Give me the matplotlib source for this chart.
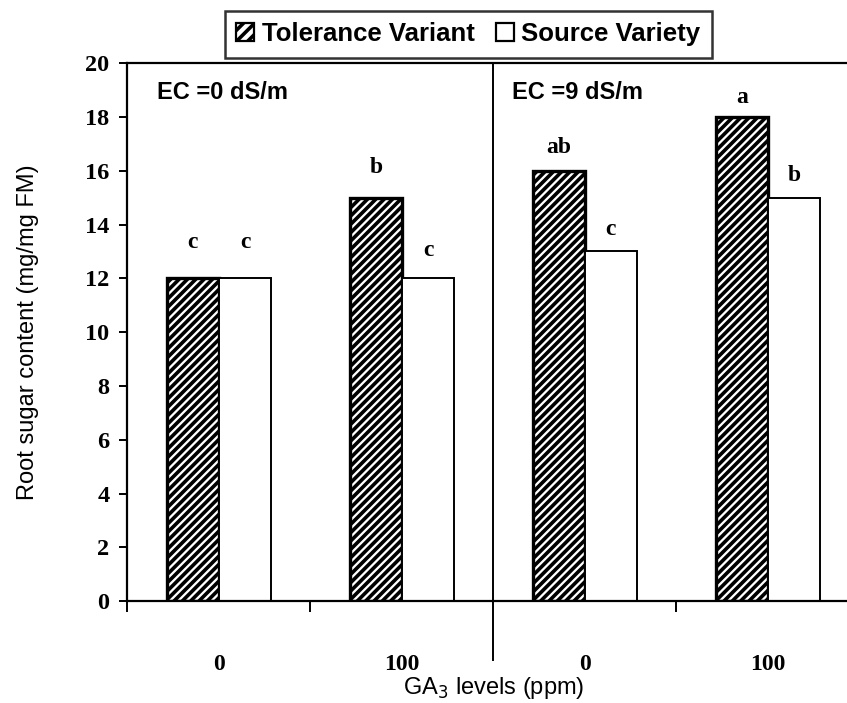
import matplotlib
matplotlib.use("Agg")
import matplotlib.pyplot as plt
from matplotlib.patches import Patch
import numpy as np

# data
ga_levels = ["0", "100", "0", "100"]
ec_labels = ["EC =0 dS/m", "EC =9 dS/m"]
tolerance = [12, 15, 16, 18]
source = [12, 12, 13, 15]
tol_letters = ["c", "b", "ab", "a"]
src_letters = ["c", "c", "c", "b"]

# gap between bar top and its letter (layout only)
tol_gap = [1.34, 1.12, 0.86, 0.74]
src_gap = [1.34, 1.04, 0.82, 0.82]

plt.rcParams['font.family'] = ['Liberation Sans', 'DejaVu Sans']
plt.rcParams['hatch.linewidth'] = 2.6
serif = ['Liberation Serif', 'DejaVu Serif']

fig = plt.figure(figsize=(8.47, 7.03), dpi=100)
ax = fig.add_axes([0.1505, 0.145, 0.864, 0.765])

x = np.arange(len(ga_levels)) + 0.5
w = 0.285
ax.bar(x - w / 2, tolerance, w, color="white", edgecolor="black",
       hatch="////", linewidth=2.4, label="Tolerance Variant")
ax.bar(x + w / 2, source, w, color="white", edgecolor="black",
       linewidth=1.4, label="Source Variety")

for xi, v, t, g in zip(x - w / 2, tolerance, tol_letters, tol_gap):
    ax.text(xi, v + g, t, ha="center", va="center", fontsize=17,
            fontweight="bold", family=serif)
for xi, v, t, g in zip(x + w / 2, source, src_letters, src_gap):
    ax.text(xi, v + g, t, ha="center", va="center", fontsize=17,
            fontweight="bold", family=serif)

ax.text(0.16, 18.9, ec_labels[0], ha="left", va="center", fontsize=17, fontweight="bold")
ax.text(2.1, 18.9, ec_labels[1], ha="left", va="center", fontsize=17, fontweight="bold")

# divider between EC groups, reaching below the axis
ax.plot([2, 2], [0, 20], color="black", lw=1.4, clip_on=False)
ax.plot([2, 2], [0, -2.2], color="black", lw=1.4, clip_on=False)

ax.set_xlim(0, 4)
ax.set_ylim(0, 20)
ax.set_yticks(np.arange(0, 21, 2))
ax.set_xticks([0, 1, 3])
ax.set_xticklabels([])
ax.set_xticks(x, minor=True)
ax.set_xticklabels(ga_levels, minor=True, fontsize=17, fontweight="bold", family=serif)
ax.tick_params(axis="x", which="minor", length=0, pad=38)
ax.tick_params(axis="x", which="major", direction="out", length=8, width=1.4)
ax.tick_params(axis="y", direction="out", length=6, width=1.4, labelsize=17.5, pad=7)
for lab in ax.get_yticklabels():
    lab.set_fontweight("bold")
    lab.set_family(serif)
for s in ax.spines.values():
    s.set_linewidth(1.6)

ax.set_ylabel("Root sugar content (mg/mg FM)", fontsize=17, labelpad=33)
ax.set_xlabel("GA$_3$ levels (ppm)", fontsize=17, labelpad=0)

handles = [Patch(facecolor="white", edgecolor="black", hatch="///", linewidth=1.6),
           Patch(facecolor="white", edgecolor="black", linewidth=1.6)]
leg = fig.legend(handles, ["Tolerance Variant", "Source Variety"], ncol=2,
                 loc="center", bbox_to_anchor=(0.553, 0.951), fancybox=False,
                 edgecolor="black", handlelength=0.7, handleheight=0.7,
                 handletextpad=0.3, columnspacing=0.8, borderpad=0.45,
                 prop={"weight": "bold", "size": 18.5})
leg.get_frame().set_linewidth(1.8)

fig.savefig("out.png", dpi=100)
